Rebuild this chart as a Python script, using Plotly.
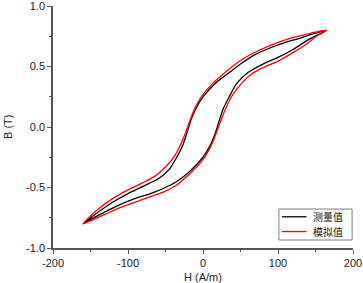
import plotly.graph_objects as go

# Measured loop (black): descending (upper) branch and ascending (lower) branch
H_meas_down = [165, 150, 130, 110, 90, 70, 50, 35, 20, 10, 0, -8, -14, -18, -22, -27, -35, -45, -60, -80, -100, -120, -140, -160]
B_meas_down = [0.80, 0.775, 0.735, 0.70, 0.655, 0.60, 0.52, 0.45, 0.38, 0.32, 0.25, 0.17, 0.09, 0.02, -0.06, -0.15, -0.25, -0.35, -0.43, -0.49, -0.55, -0.62, -0.705, -0.80]
H_meas_up = [-160, -150, -130, -110, -90, -70, -50, -35, -20, -10, 0, 8, 14, 18, 22, 27, 35, 45, 60, 80, 100, 120, 140, 165]
B_meas_up = [-0.80, -0.765, -0.70, -0.64, -0.59, -0.55, -0.50, -0.45, -0.38, -0.32, -0.25, -0.17, -0.09, -0.02, 0.06, 0.15, 0.25, 0.36, 0.45, 0.52, 0.575, 0.64, 0.72, 0.80]

# Model loop (red)
H_sim_down = [165, 150, 130, 110, 90, 70, 50, 35, 20, 10, 0, -8, -14, -20, -28, -38, -50, -65, -80, -100, -120, -140, -150, -160]
B_sim_down = [0.80, 0.785, 0.755, 0.72, 0.675, 0.62, 0.55, 0.48, 0.40, 0.34, 0.27, 0.19, 0.11, 0.01, -0.12, -0.24, -0.33, -0.41, -0.46, -0.52, -0.59, -0.68, -0.735, -0.80]
H_sim_up = [-160, -150, -130, -110, -90, -70, -50, -35, -20, -10, 0, 8, 14, 20, 28, 38, 50, 65, 80, 100, 120, 140, 150, 165]
B_sim_up = [-0.80, -0.775, -0.72, -0.665, -0.62, -0.575, -0.53, -0.48, -0.40, -0.34, -0.27, -0.19, -0.11, -0.01, 0.12, 0.25, 0.35, 0.44, 0.49, 0.545, 0.615, 0.695, 0.745, 0.80]

x_ticks = [-200, -100, 0, 100, 200]
x_labels = ["-200", "-100", "0", "100", "200"]
y_ticks = [-1.0, -0.5, 0.0, 0.5, 1.0]
y_labels = ["-1.0", "-0.5", "0.0", "0.5", "1.0"]
series_names = ["测量值", "模拟值"]
series_colors = ["black", "red"]

fig = go.Figure()
fig.add_trace(go.Scatter(x=H_meas_down + H_meas_up[1:], y=B_meas_down + B_meas_up[1:],
                         mode="lines", line=dict(color=series_colors[0], width=1.3, shape="spline", smoothing=0.7),
                         name=series_names[0], showlegend=False))
fig.add_trace(go.Scatter(x=H_sim_down + H_sim_up[1:], y=B_sim_down + B_sim_up[1:],
                         mode="lines", line=dict(color=series_colors[1], width=1.3, shape="spline", smoothing=0.7),
                         name=series_names[1], showlegend=False))

axis_common = dict(showline=True, linecolor="#555555", linewidth=1.5, ticks="outside",
                   tickcolor="#555555", tickwidth=1.2, ticklen=4, showgrid=False, zeroline=False,
                   tickfont=dict(family="Liberation Sans, Arial", size=11, color="#222222"),
                   mirror=False, automargin=False, ticklabeloverflow="allow")

fig.update_xaxes(range=[-200, 200], tickmode="array", tickvals=x_ticks, ticktext=x_labels,
                 minor=dict(ticks="outside", ticklen=2, dtick=50, tickcolor="#555555", showgrid=False),
                 **axis_common)
fig.update_yaxes(range=[-1, 1], tickmode="array", tickvals=y_ticks, ticktext=y_labels,
                 minor=dict(ticks="outside", ticklen=2, dtick=0.25, tickcolor="#555555", showgrid=False),
                 **axis_common)

title_font = dict(family="Liberation Sans, Arial", size=11, color="#222222")
fig.add_annotation(text="H (A/m)", xref="paper", yref="paper", x=0.5, y=0, yshift=-29,
                   showarrow=False, xanchor="center", yanchor="middle", font=title_font)
fig.add_annotation(text="B (T)", xref="paper", yref="paper", x=0, y=0.5, xshift=-45,
                   showarrow=False, xanchor="center", yanchor="middle", textangle=-90, font=title_font)

# Legend box drawn in paper coordinates
fig.add_shape(type="rect", xref="paper", yref="paper", x0=0.753, x1=0.997, y0=0.033, y1=0.161,
              line=dict(color="#7a7a7a", width=1), fillcolor="white", layer="above")
legend_rows = [0.129, 0.068]
for name, color, yr in zip(series_names, series_colors, legend_rows):
    fig.add_shape(type="line", xref="paper", yref="paper", x0=0.763, x1=0.845, y0=yr, y1=yr,
                  line=dict(color=color, width=1.3), layer="above")
    fig.add_annotation(text=name, xref="paper", yref="paper", x=0.862, y=yr, showarrow=False,
                       xanchor="left", yanchor="middle", borderpad=0,
                       font=dict(family="Noto Sans CJK SC", size=10, color="#111111"))

fig.update_layout(
    width=363, height=283,
    margin=dict(l=53, r=10, t=6, b=35),
    plot_bgcolor="white", paper_bgcolor="white",
    showlegend=False,
)

fig.write_html("out.html", config={"displayModeBar": False},
               post_script="document.body.style.margin='0px';")
